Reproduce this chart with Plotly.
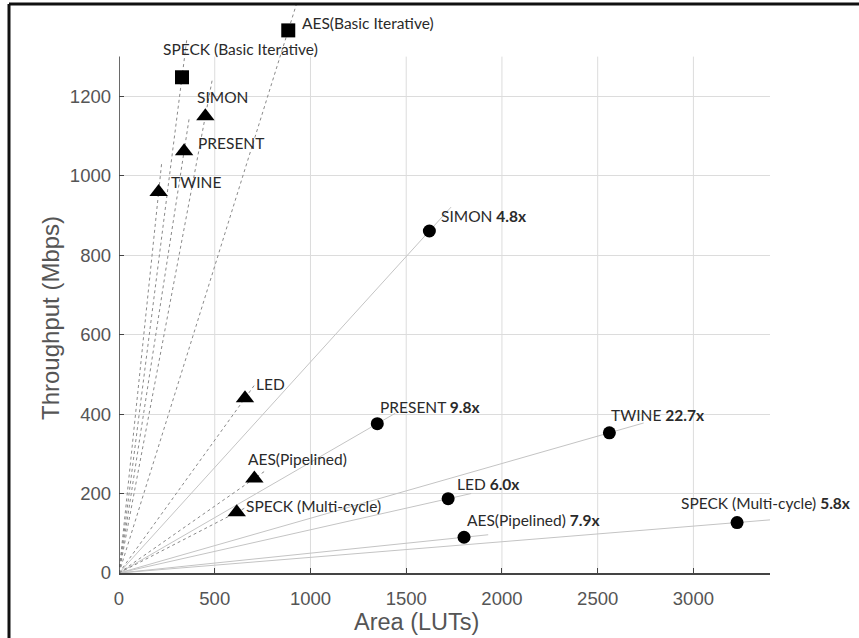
import plotly.graph_objects as go

# ---------------- data ----------------
circle_names = ["SIMON", "PRESENT", "TWINE", "LED", "AES(Pipelined)", "SPECK (Multi-cycle)"]
circle_ratio = ["4.8x", "9.8x", "22.7x", "6.0x", "7.9x", "5.8x"]
circle_area = [1621, 1349, 2561, 1719, 1802, 3228]
circle_tp = [861, 376, 353, 187, 90, 127]

tri_names = ["SIMON", "PRESENT", "TWINE", "LED", "AES(Pipelined)", "SPECK (Multi-cycle)"]
tri_area = [451, 340, 207, 658, 707, 615]
tri_tp = [1150, 1062, 959, 440, 238, 153]

sq_names = ["SPECK (Basic Iterative)", "AES(Basic Iterative)"]
sq_area = [329, 884]
sq_tp = [1248, 1366]

x_ticks = [0, 500, 1000, 1500, 2000, 2500, 3000]
y_ticks = [0, 200, 400, 600, 800, 1000, 1200]

# ---------------- styling ----------------
W, H = 859, 638
ML, MR, MT, MB = 119, 89, 1, 65
PW, PH = W - ML - MR, H - MT - MB
X_MAX, Y_AXIS_TOP = 3400, 1300
Y_MAX = 1440

def px_x(px):
    return (px - ML) / PW

def px_y(py):
    return (H - MB - py) / PH

# label offsets (px): (dx right, dy up)
circle_off = [(10, 15), (1, 17), (0, 18), (7, 15), (1, 17), (-58, 20)]
tri_off = [(-10, 19), (12, 8), (10, 10), (9, 14), (-8, 19), (7, 6)]
sq_off = [(-21, 28), (12, 7)]

SOLID_EXT = 1.07
DOT_EXT = 1.08
LABEL_FONT = dict(family="Lato, Noto Sans, sans-serif", size=15.5, color="#2a2a2a")

fig = go.Figure()

# rays from origin
for a, t in zip(circle_area, circle_tp):
    fig.add_trace(go.Scatter(x=[0, a * SOLID_EXT], y=[0, t * SOLID_EXT], mode="lines",
                             line=dict(color="#c4c4c4", width=1), hoverinfo="skip",
                             showlegend=False))
for a, t in zip(tri_area + sq_area, tri_tp + sq_tp):
    fig.add_trace(go.Scatter(x=[0, a * DOT_EXT], y=[0, t * DOT_EXT], mode="lines",
                             line=dict(color="#8a8a8a", width=1, dash="dot"), hoverinfo="skip",
                             showlegend=False))

# markers
fig.add_trace(go.Scatter(x=circle_area, y=circle_tp, mode="markers",
                         marker=dict(symbol="circle", size=13, color="black"),
                         cliponaxis=False, showlegend=False))
fig.add_trace(go.Scatter(x=tri_area, y=tri_tp, mode="markers",
                         marker=dict(symbol="triangle-up", size=16, color="black"),
                         cliponaxis=False, showlegend=False))
fig.add_trace(go.Scatter(x=sq_area, y=sq_tp, mode="markers",
                         marker=dict(symbol="square", size=14, color="black"),
                         cliponaxis=False, showlegend=False))

annotations = []
for n, r, a, t, (dx, dy) in zip(circle_names, circle_ratio, circle_area, circle_tp, circle_off):
    annotations.append(dict(x=a, y=t, text=f"{n} <b>{r}</b>", showarrow=False,
                            xanchor="left", yanchor="middle", xshift=dx, yshift=dy,
                            font=LABEL_FONT))
for n, a, t, (dx, dy) in zip(tri_names + sq_names, tri_area + sq_area, tri_tp + sq_tp,
                             tri_off + sq_off):
    annotations.append(dict(x=a, y=t, text=n, showarrow=False,
                            xanchor="left", yanchor="middle", xshift=dx, yshift=dy,
                            font=LABEL_FONT))

# axis titles
annotations.append(dict(xref="paper", yref="paper", x=px_x(416), y=px_y(622),
                        text="Area (LUTs)", showarrow=False, xanchor="center", yanchor="middle",
                        font=dict(family="Liberation Sans, Arial, sans-serif", size=23.5, color="#555")))
annotations.append(dict(xref="paper", yref="paper", x=px_x(50), y=px_y(318),
                        text="Throughput (Mbps)", showarrow=False, textangle=-90,
                        xanchor="center", yanchor="middle",
                        font=dict(family="Liberation Sans, Arial, sans-serif", size=24, color="#555")))

shapes = []
# vertical grid lines (stop at axis top)
for xv in x_ticks[1:]:
    shapes.append(dict(type="line", xref="x", yref="y", x0=xv, x1=xv, y0=0, y1=Y_AXIS_TOP,
                       line=dict(color="#dcdcdc", width=1), layer="below"))
# y axis line
shapes.append(dict(type="line", xref="x", yref="y", x0=0, x1=0, y0=0, y1=Y_AXIS_TOP,
                   line=dict(color="#444", width=1.6), layer="above"))
# image frame (top + left)
shapes.append(dict(type="line", xref="paper", yref="paper", x0=px_x(9), x1=px_x(W + 2),
                   y0=px_y(4), y1=px_y(4), line=dict(color="#111", width=3)))
shapes.append(dict(type="line", xref="paper", yref="paper", x0=px_x(9), x1=px_x(9),
                   y0=px_y(4), y1=px_y(H + 2), line=dict(color="#111", width=3)))

tickfont = dict(family="Liberation Sans, Arial, sans-serif", size=18.5, color="#555")

fig.update_layout(
    width=W, height=H,
    margin=dict(l=ML, r=MR, t=MT, b=MB),
    paper_bgcolor="white", plot_bgcolor="white",
    showlegend=False,
    annotations=annotations,
    shapes=shapes,
    xaxis=dict(range=[0, X_MAX], tickvals=x_ticks, showgrid=False, zeroline=False,
               showline=True, linecolor="#444", linewidth=1.6,
               ticks="inside", ticklen=5, tickcolor="#444", tickwidth=1,
               tickfont=tickfont, ticklabelstandoff=8),
    yaxis=dict(range=[0, Y_MAX], tickvals=y_ticks, showgrid=True, gridcolor="#dcdcdc",
               gridwidth=1, zeroline=False, showline=False,
               ticks="inside", ticklen=5, tickcolor="#444", tickwidth=1,
               tickfont=tickfont, ticklabelstandoff=7),
)

fig.write_html("out.html")
